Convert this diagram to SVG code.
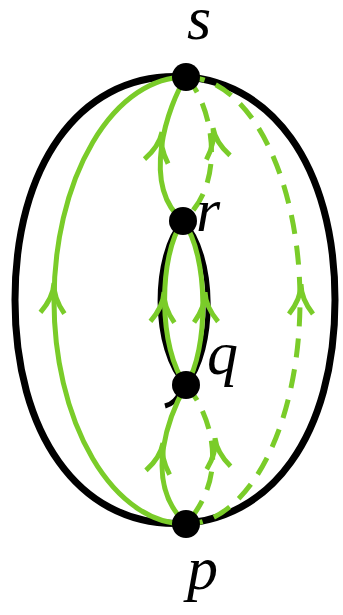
<svg xmlns="http://www.w3.org/2000/svg" xmlns:xlink="http://www.w3.org/1999/xlink" width="343" height="615" viewBox="0 0 343 615">
<style>
.bk{fill:none;stroke:#000;stroke-width:7}
.bl{fill:none;stroke:#000;stroke-width:5}
.g{fill:none;stroke:#7acc29;stroke-width:5}
.gd{fill:none;stroke:#7acc29;stroke-width:5;stroke-dasharray:19 12}
.ar{fill:none;stroke:#7acc29;stroke-width:5}
.nd{fill:#000}
.lb{font-family:"Liberation Serif","Times New Roman",serif;font-style:italic;font-size:62px;fill:#000}
</style>
<defs>
<path id="arr" class="ar" d="M-12,30 C-5,21 0,11 0,0 C0,11 5,21 12,30"/>
</defs>
<g id="connectors">
<path class="bk" d="M175,76.5 C271,76.5 335,166 335,300 C335,434 271,523.5 175,523.5 C79,523.5 15,434 15,300 C15,166 79,76.5 175,76.5 Z"/>
<path class="bl" d="M183,221 C152,255 152,350 186,385"/>
<path class="bl" d="M183,221 C216,255 216,350 186,385"/>
<path class="bl" d="M180,392 Q176,403 165,406"/>
<path class="g" d="M186,77 A132,223.5 0 0 0 186,524"/>
<path class="gd" d="M186,77 A114,223.5 0 0 1 186,524"/>
<path class="g" d="M186,77 C168,105 140,185 183,221"/>
<path class="gd" d="M186,77 C210,100 230,180 183,221"/>
<path class="g" d="M183,221 C158,255 158,350 186,385"/>
<path class="g" d="M183,221 C209,255 209,350 186,385"/>
<path class="g" d="M186,385 C172,410 140,480 186,524"/>
<path class="gd" d="M186,385 C205,405 235,470 186,524"/>
<use xlink:href="#arr" transform="translate(54,283) rotate(3)"/>
<use xlink:href="#arr" transform="translate(162,132) rotate(11)"/>
<use xlink:href="#arr" transform="translate(213,128) rotate(-10)"/>
<use xlink:href="#arr" transform="translate(301,284)"/>
<use xlink:href="#arr" transform="translate(164,292) rotate(3)"/>
<use xlink:href="#arr" transform="translate(205,292) rotate(-2)"/>
<use xlink:href="#arr" transform="translate(163,443) rotate(10)"/>
<use xlink:href="#arr" transform="translate(215,438) rotate(-7)"/>
</g>
<g id="node-s"><circle class="nd" cx="186" cy="77" r="14"/><text class="lb" x="187" y="39">s</text></g>
<g id="node-r"><circle class="nd" cx="183" cy="221" r="14"/><text class="lb" x="196" y="231">r</text></g>
<g id="node-q"><circle class="nd" cx="186" cy="385" r="14"/><text class="lb" x="207" y="374">q</text></g>
<g id="node-p"><circle class="nd" cx="186" cy="524" r="14"/><text class="lb" x="187" y="589">p</text></g>
</svg>
